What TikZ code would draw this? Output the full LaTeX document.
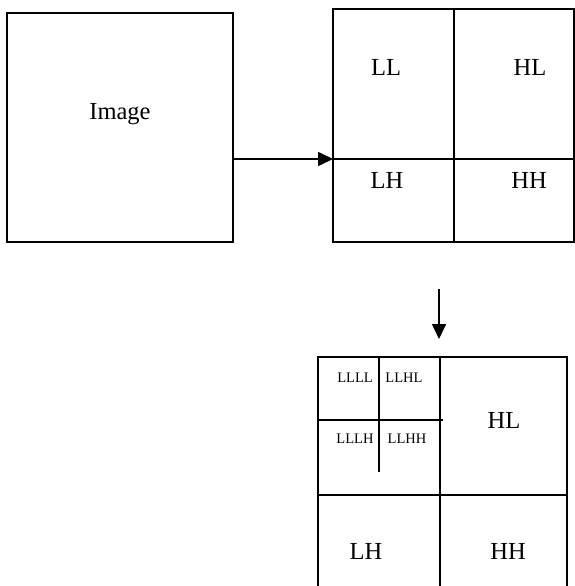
\documentclass[tikz,border=0pt]{standalone}
\usepackage{fontspec}
\setmainfont{Liberation Serif}
\usetikzlibrary{arrows.meta}
\begin{document}
\begin{tikzpicture}[x=1pt,y=-1pt,
  box/.style={draw,line width=1.7pt},
  seg/.style={line width=1.7pt},
  big/.style={inner sep=0pt,font=\fontsize{24.5}{28}\selectfont},
  small/.style={inner sep=0pt,font=\fontsize{14.5}{17}\selectfont},
  conn/.style={line width=1.7pt,-{Triangle[length=15pt,width=14pt]}}]
\clip (0,0) rectangle (575,586);
\fill[white] (0,0) rectangle (575,586);
% Image box
\draw[box] (7,13) rectangle (233,242);
\node[big] (img) at (120,114) {Image};
\coordinate (imgE) at (233,159);
% first decomposition
\draw[box] (333,9) rectangle (574,242);
\draw[seg] (454,9) -- (454,242);
\draw[seg] (333,159) -- (574,159);
\coordinate (d1W) at (333,159);
\node[big] (ll) at (386,67) {LL};
\node[big] (hl) at (530,67) {HL};
\node[big] (lh) at (387,180) {LH};
\node[big] (hh) at (529,180) {HH};
\draw[conn] (imgE) -- (d1W);
% down arrow
\coordinate (dA) at (439,289);
\coordinate (dB) at (439,339);
\draw[conn] (dA) -- (dB);
% second decomposition
\draw[box] (318,357) rectangle (567,600);
\draw[seg] (440,357) -- (440,600);
\draw[seg] (318,495) -- (567,495);
\draw[seg] (318,420) -- (443,420);
\draw[seg] (379,357) -- (379,472);
\node[small] (llll) at (355,378) {LLLL};
\node[small] (llhl) at (404,378) {LLHL};
\node[small] (lllh) at (355,439) {LLLH};
\node[small] (llhh) at (407,439) {LLHH};
\node[big] (hl2) at (504,420) {HL};
\node[big] (lh2) at (366,551) {LH};
\node[big] (hh2) at (508,551) {HH};
\end{tikzpicture}
\end{document}
